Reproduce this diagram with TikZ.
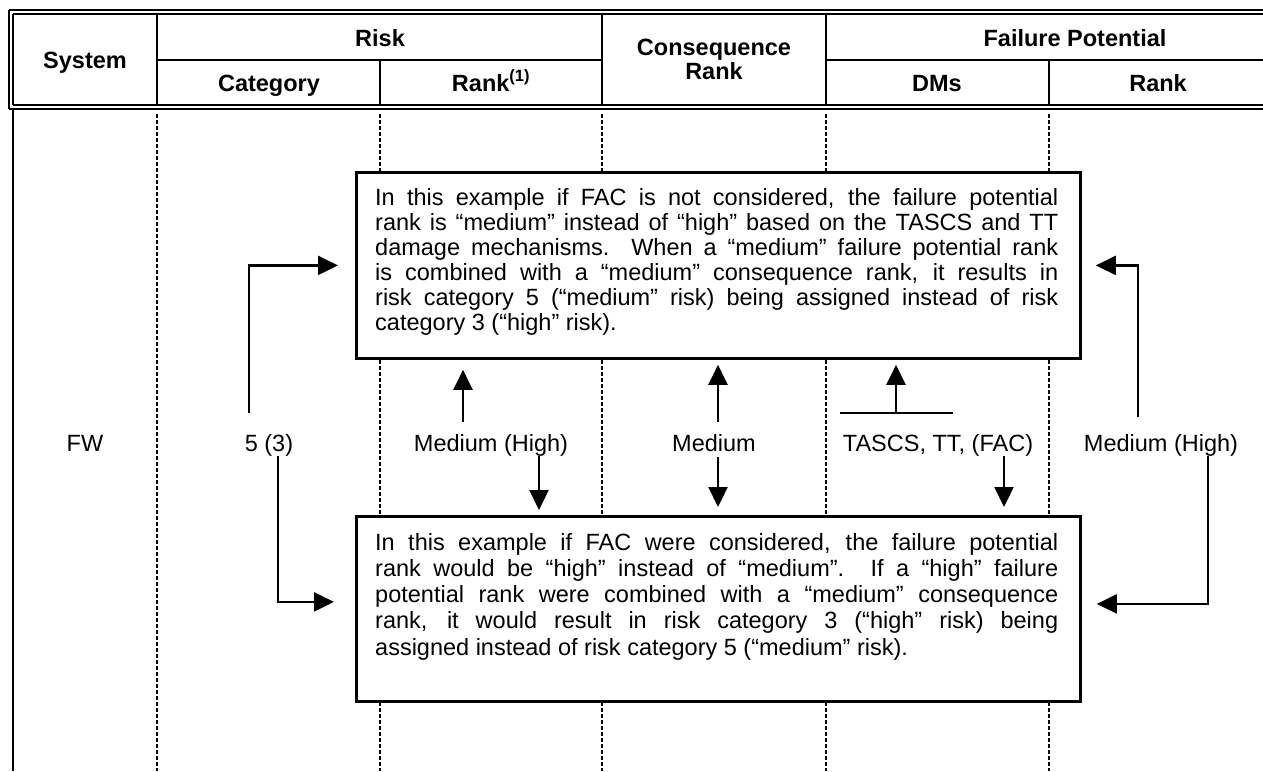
\documentclass[tikz,border=0pt]{standalone}
\usepackage{fontspec}
\setmainfont{Liberation Sans}
\usetikzlibrary{arrows.meta}
\newcommand{\boxtext}[2]{\parbox[t]{683pt}{\fontsize{23.5}{#1}\selectfont\tolerance=10000\hyphenpenalty=10000\rightskip=0pt #2}}
\begin{document}
\begin{tikzpicture}[x=1pt,y=-1pt,
  every node/.style={inner sep=0pt, font=\fontsize{23.5}{25}\selectfont},
  hdr/.style={font=\fontsize{23.5}{24}\selectfont\bfseries, anchor=base},
  lbl/.style={anchor=base},
  frame/.style={line width=2.4pt},
  thinline/.style={line width=1.5pt},
  gridline/.style={line width=1.8pt},
  dots/.style={line width=2.1pt, dash pattern=on 3.6pt off 2.4pt},
  boxs/.style={draw, line width=2.8pt, fill=white, anchor=north west},
  arr/.style={line width=2.3pt, -{Triangle[length=20pt,width=19pt]}},
  bar/.style={line width=2.3pt}
]
\useasboundingbox (0,0) rectangle (1263,771);
\fill[white] (0,0) rectangle (1263,771);

% header frame
\draw[frame] (9,10) -- (1263,10);
\draw[thinline] (13,14) -- (1263,14);
\draw[frame] (9,10) -- (9,109);
\draw[thinline] (13,14) -- (13,105);
\draw[thinline] (13,105) -- (1263,105);
\draw[frame] (9,109) -- (1263,109);
\draw[frame] (13,109) -- (13,771);
% header grid
\draw[gridline] (157,14) -- (157,105);
\draw[gridline] (602,14) -- (602,105);
\draw[gridline] (826,14) -- (826,105);
\draw[gridline] (380,60) -- (380,105);
\draw[gridline] (1049,60) -- (1049,105);
\draw[gridline] (157,60) -- (602,60);
\draw[gridline] (826,60) -- (1263,60);

% header text
\node[hdr] (hsys) at (85,68) {System};
\node[hdr] (hrisk) at (380,46) {Risk};
\node[hdr] (hcat) at (269,91) {Category};
\node[hdr] (hrank) at (491,91) {Rank\textsuperscript{(1)}};
\node[hdr] (hcons) at (714,55) {Consequence};
\node[hdr] (hconsr) at (714,79) {Rank};
\node[hdr] (hfp) at (1075,46) {Failure Potential};
\node[hdr] (hdms) at (937,91) {DMs};
\node[hdr] (hfpr) at (1158,91) {Rank};

% dotted column lines
\foreach \cx in {157,380,602,826,1049}
  \draw[dots] (\cx,114) -- (\cx,771);

% boxes
\node[boxs, minimum width=724pt, minimum height=186pt] (b1) at (355,171) {};
\node[boxs, minimum width=724pt, minimum height=185pt] (b2) at (355,515) {};

\node[anchor=base west] (t1) at (375,205) {\boxtext{25pt}{In this example if FAC is not considered, the failure potential\linebreak
rank is “medium” instead of “high” based on the TASCS and TT\linebreak
damage mechanisms.  When a “medium” failure potential rank\linebreak
is combined with a “medium” consequence rank, it results in\linebreak
risk category 5 (“medium” risk) being assigned instead of risk\linebreak
category 3 (“high” risk).}};

\node[anchor=base west] (t2) at (375,550) {\boxtext{26.3pt}{In this example if FAC were considered, the failure potential\linebreak
rank would be “high” instead of “medium”.  If a “high” failure\linebreak
potential rank were combined with a “medium” consequence\linebreak
rank, it would result in risk category 3 (“high” risk) being\linebreak
assigned instead of risk category 5 (“medium” risk).}};

% row labels
\node[lbl] (fw) at (85,451) {FW};
\node[lbl] (n53) at (269,451) {5 (3)};
\node[lbl] (mh1) at (491,451) {Medium (High)};
\node[lbl] (med) at (714,451) {Medium};
\node[lbl] (dms) at (938,451) {TASCS, TT, (FAC)};
\node[lbl] (mh2) at (1161,451) {Medium (High)};

% connectors
\draw[arr, shorten >=17pt] ([xshift=-20pt,yshift=21pt]n53.north) |- (b1.west);
\draw[arr, shorten >=21pt] ([xshift=9pt]n53.south) |- ([yshift=7pt]b2.west);

\path ([xshift=-28pt,yshift=12pt]mh1.north) coordinate (u1)
      ([xshift=48pt]mh1.south) coordinate (d1)
      ([xshift=4pt,yshift=12pt]med.north) coordinate (u2)
      ([xshift=4pt,yshift=-6pt]med.south) coordinate (d2)
      ([xshift=-42pt,yshift=21pt]dms.north) coordinate (u3)
      ([xshift=-98pt,yshift=21pt]dms.north) coordinate (bl)
      ([xshift=15pt,yshift=21pt]dms.north) coordinate (br)
      ([xshift=66pt]dms.south) coordinate (d3);

\draw[arr, shorten >=10pt] (u1) -- (u1 |- b1.south);
\draw[arr, shorten >=5pt] (d1) -- (d1 |- b2.north);
\draw[arr, shorten >=5pt] (u2) -- (u2 |- b1.south);
\draw[arr, shorten >=8pt] (d2) -- (d2 |- b2.north);
\draw[bar] (bl) -- (br);
\draw[arr, shorten >=5pt] (u3) -- (u3 |- b1.south);
\draw[arr, shorten >=8pt] (d3) -- (d3 |- b2.north);

\draw[arr, shorten >=14pt] ([xshift=-23pt,yshift=17pt]mh2.north) |- (b1.east);
\draw[arr, shorten >=15pt] ([xshift=47pt]mh2.south) |- ([yshift=5pt]b2.east);
\end{tikzpicture}
\end{document}
